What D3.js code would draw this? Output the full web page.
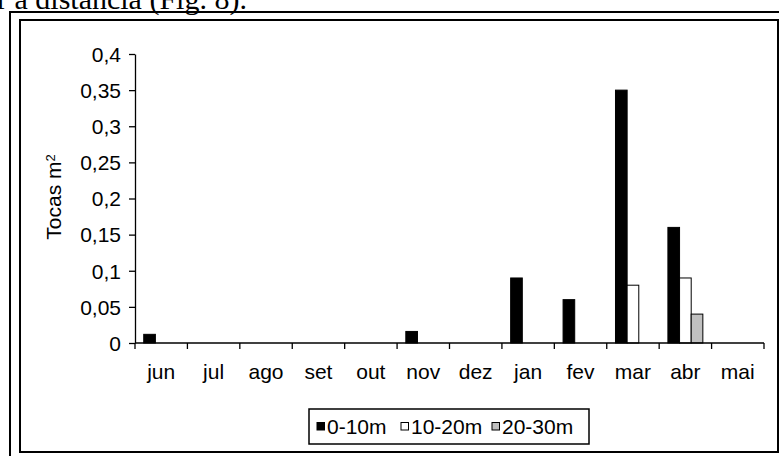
<!DOCTYPE html>
<html>
<head>
<meta charset="utf-8">
<style>
    body { margin: 0; background: #fff; }
    svg text { font-family: "Liberation Sans", Arial, sans-serif; fill: #000; }
    .caption { font-family: "Liberation Serif", "Times New Roman", serif; }
</style>
<script src="https://d3js.org/d3.v7.min.js"></script>
</head>
<body>
<svg width="779" height="456"></svg>
<script>
    // data
    var months = ["jun", "jul", "ago", "set", "out", "nov", "dez", "jan", "fev", "mar", "abr", "mai"];
    var series = ["0-10m", "10-20m", "20-30m"];
    var d0_10 = [0.012, 0, 0, 0, 0, 0.016, 0, 0.09, 0.06, 0.35, 0.16, 0];
    var d10_20 = [0, 0, 0, 0, 0, 0, 0, 0, 0, 0.08, 0.09, 0];
    var d20_30 = [0, 0, 0, 0, 0, 0, 0, 0, 0, 0, 0.04, 0];
    var yTicks = [0, 0.05, 0.1, 0.15, 0.2, 0.25, 0.3, 0.35, 0.4];
    var colors = ["#000000", "#ffffff", "#c0c0c0"];

    var svg = d3.select("svg");

    // bit of page text above the figure (cut at the top like in the scan)
    svg.append("text")
        .attr("class", "caption")
        .attr("x", -3)
        .attr("y", 9)
        .style("font-size", "30px")
        .text("r a distância (Fig. 8).");

    // outer frame (page box)
    svg.append("path")
        .attr("d", "M10,456 V12 H779")
        .attr("fill", "none")
        .attr("stroke", "#000")
        .attr("stroke-width", 2);

    // chart border
    svg.append("rect")
        .attr("x", 20).attr("y", 20)
        .attr("width", 758).attr("height", 432)
        .attr("fill", "none")
        .attr("stroke", "#000")
        .attr("stroke-width", 2);

    var x = d3.scaleBand().domain(months).range([135, 764]);
    var xs = d3.scaleBand().domain(series).range([0, x.bandwidth()]).paddingOuter(0.75);
    var y = d3.scaleLinear().domain([0, 0.4]).range([343, 54]);

    var fmt = function (v) { return String(v).replace(".", ","); };

    // y axis
    var yAxis = svg.append("g")
        .attr("transform", "translate(135,0)")
        .call(d3.axisLeft(y).tickValues(yTicks).tickFormat(fmt).tickSize(6).tickPadding(8).tickSizeOuter(0));
    yAxis.selectAll("text").style("font-size", "21px").attr("dy", "0.35em");
    yAxis.selectAll("line, path").attr("stroke", "#000").attr("stroke-width", 1.3);

    // bars
    var rows = months.map(function (m, i) {
        return { month: m, vals: [d0_10[i], d10_20[i], d20_30[i]] };
    });
    var grp = svg.selectAll(".grp")
        .data(rows)
        .enter().append("g")
        .attr("transform", function (d) { return "translate(" + x(d.month) + ",0)"; });
    grp.selectAll("rect")
        .data(function (d) {
            return d.vals.map(function (v, k) { return { s: series[k], k: k, v: v }; })
                .filter(function (e) { return e.v > 0; });
        })
        .enter().append("rect")
        .attr("x", function (d) { return xs(d.s); })
        .attr("width", xs.bandwidth())
        .attr("y", function (d) { return y(d.v); })
        .attr("height", function (d) { return y(0) - y(d.v); })
        .attr("fill", function (d) { return colors[d.k]; })
        .attr("stroke", "#000")
        .attr("stroke-width", 1);

    // x axis: ticks on the category boundaries, labels centred
    var bounds = months.map(function (m) { return x(m); }).concat([x.range()[1]]);
    svg.append("line")
        .attr("x1", 135).attr("x2", 764)
        .attr("y1", y(0)).attr("y2", y(0))
        .attr("stroke", "#000").attr("stroke-width", 1.3);
    svg.selectAll(".xtick")
        .data(bounds)
        .enter().append("line")
        .attr("x1", function (d) { return d; }).attr("x2", function (d) { return d; })
        .attr("y1", y(0)).attr("y2", y(0) + 6)
        .attr("stroke", "#000").attr("stroke-width", 1.3);
    svg.selectAll(".xlab")
        .data(months)
        .enter().append("text")
        .attr("x", function (d) { return x(d) + x.bandwidth() / 2; })
        .attr("y", 379)
        .attr("text-anchor", "middle")
        .style("font-size", "21px")
        .text(function (d) { return d; });

    // y title
    var yt = svg.append("text")
        .attr("transform", "translate(61,197) rotate(-90)")
        .attr("text-anchor", "middle")
        .style("font-size", "21px");
    yt.append("tspan").text("Tocas m");
    yt.append("tspan").attr("dy", "-0.5em").style("font-size", "13px").text("2");

    // legend
    var lg = svg.append("g");
    lg.append("rect")
        .attr("x", 309).attr("y", 409)
        .attr("width", 280).attr("height", 35)
        .attr("fill", "#fff")
        .attr("stroke", "#000").attr("stroke-width", 1.5);
    var legX = [317, 401, 492];
    var item = lg.selectAll(".item")
        .data(series)
        .enter().append("g")
        .attr("transform", function (d, i) { return "translate(" + legX[i] + ",0)"; });
    item.append("rect")
        .attr("x", 0).attr("y", 422.5)
        .attr("width", 7.5).attr("height", 7.5)
        .attr("fill", function (d, i) { return colors[i]; })
        .attr("stroke", "#000").attr("stroke-width", 1);
    item.append("text")
        .attr("x", 10).attr("y", 433.5)
        .style("font-size", "21px")
        .text(function (d) { return d; });
</script>
</body>
</html>
